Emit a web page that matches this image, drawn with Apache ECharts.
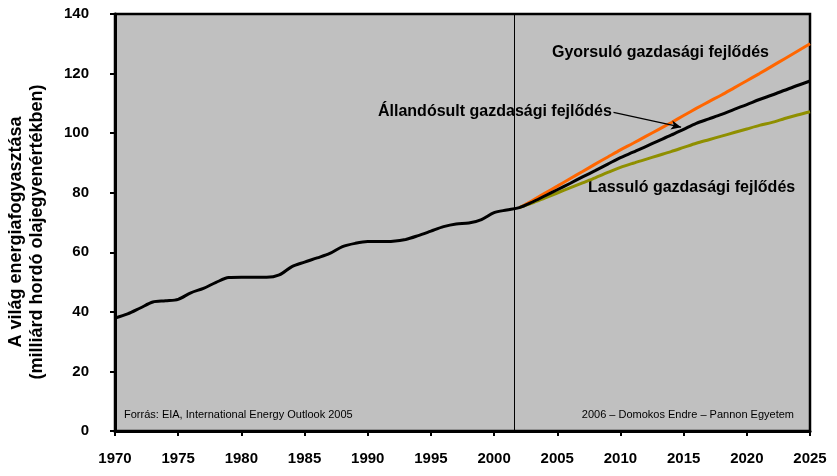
<!DOCTYPE html>
<html>
<head>
<meta charset="utf-8">
<script src="https://cdn.jsdelivr.net/npm/echarts@6/dist/echarts.min.js"></script>
<style>html,body{margin:0;padding:0;background:#fff;}#c{width:837px;height:476px;}</style>
</head>
<body>
<div id="c"></div>
<script>
// Historical (1970-2002)
var histYears = [1970,1971,1972,1973,1974,1975,1976,1977,1978,1979,1980,1981,1982,1983,1984,1985,1986,1987,1988,1989,1990,1991,1992,1993,1994,1995,1996,1997,1998,1999,2000,2001,2002];
var histValues = [37.9,39.3,41.3,43.3,43.7,44.2,46.4,47.9,49.9,51.5,51.6,51.6,51.6,52.4,55.2,56.7,58.1,59.6,61.9,63.0,63.6,63.6,63.7,64.3,65.6,67.1,68.6,69.5,69.8,71.0,73.3,74.2,75.0];
// Projections (2002-2025)
var projYears = [2002,2003,2004,2005,2006,2007,2008,2009,2010,2011,2012,2013,2014,2015,2016,2017,2018,2019,2020,2021,2022,2023,2024,2025];
var highValues = [75.0,77.3,79.8,82.2,84.7,87.1,89.6,92.0,94.4,96.6,98.9,101.2,103.5,105.9,108.3,110.6,112.8,115.2,117.6,120.0,122.5,125.0,127.5,130.0];
var refValues  = [75.0,76.8,78.9,81.0,83.1,85.3,87.4,89.6,91.8,93.6,95.5,97.4,99.3,101.3,103.3,104.8,106.3,108.0,109.6,111.3,112.8,114.4,116.0,117.5];
var lowValues  = [75.0,76.5,78.2,79.9,81.6,83.3,85.0,86.8,88.5,89.9,91.2,92.5,93.8,95.2,96.6,97.8,99.0,100.2,101.4,102.6,103.6,104.9,106.1,107.2];
var projectionStart = 2001.6;
var labels = {
  high: 'Gyorsuló gazdasági fejlődés',
  ref: 'Állandósult gazdasági fejlődés',
  low: 'Lassuló gazdasági fejlődés',
  yName1: 'A világ energiafogyasztása',
  yName2: '(milliárd hordó olajegyenértékben)',
  source: 'Forrás: EIA, International Energy Outlook 2005',
  credit: '2006 – Domokos Endre – Pannon Egyetem'
};

function zip(xs, ys){ return xs.map(function(x,i){ return [x, ys[i]]; }); }
var blackData = zip(histYears, histValues).concat(zip(projYears.slice(1), refValues.slice(1)));

var chart = echarts.init(document.getElementById('c'));
var FONT = '"Liberation Sans", Arial, sans-serif';
chart.setOption({
  animation: false,
  backgroundColor: '#ffffff',
  grid: { left: 115, right: 27, top: 14, bottom: 45, show: true, backgroundColor: '#C0C0C0', borderColor: '#000', borderWidth: 2.5 },
  xAxis: {
    type: 'value', min: 1970, max: 2025, interval: 5,
    axisLine: { show: true, lineStyle: { color: '#000', width: 3 } },
    axisTick: { show: true, length: 5, lineStyle: { color: '#000', width: 2 } },
    axisLabel: { color: '#000', fontFamily: FONT, fontWeight: 'bold', fontSize: 15, margin: 20, formatter: function(v){ return String(v); } },
    splitLine: { show: false }
  },
  yAxis: {
    type: 'value', min: 0, max: 140, interval: 20,
    axisLine: { show: true, lineStyle: { color: '#000', width: 3 } },
    axisTick: { show: true, length: 5, lineStyle: { color: '#000', width: 2 } },
    axisLabel: { color: '#000', fontFamily: FONT, fontWeight: 'bold', fontSize: 15, margin: 26 },
    splitLine: { show: false }
  },
  series: [
    { name: labels.high, type: 'line', data: zip(projYears, highValues), smooth: 0.3, showSymbol: false, lineStyle: { color: '#FF6600', width: 3 }, z: 2 },
    { name: labels.low, type: 'line', data: zip(projYears, lowValues), smooth: 0.3, showSymbol: false, lineStyle: { color: '#8F8F00', width: 3 }, z: 3 },
    { name: labels.ref, type: 'line', data: blackData, smooth: 0.3, showSymbol: false, lineStyle: { color: '#000', width: 3 }, z: 4,
      markLine: {
        silent: true, animation: false, label: { show: false },
        data: [
          [{ coord: [projectionStart, 0], symbol: 'none' }, { coord: [projectionStart, 140], symbol: 'none', lineStyle: { color: '#000', width: 1, type: 'solid' } }],
          [{ coord: [2009.45, 107.0], symbol: 'none' }, { coord: [2014.8, 102.0], symbol: 'arrow', symbolSize: [7, 10], lineStyle: { color: '#000', width: 1.2, type: 'solid' } }]
        ],
        lineStyle: { color: '#000', width: 1, type: 'solid' }
      }
    }
  ],
  graphic: [
    { type: 'text', x: 27, y: 232, rotation: Math.PI/2, style: { text: labels.yName1 + '\n' + labels.yName2, font: 'bold 18px ' + FONT, fill: '#000', align: 'center', verticalAlign: 'middle', lineHeight: 21 } },
    { type: 'text', x: 552, y: 53, style: { text: labels.high, font: 'bold 16px ' + FONT, fill: '#000', verticalAlign: 'middle' } },
    { type: 'text', x: 378, y: 112, style: { text: labels.ref, font: 'bold 16px ' + FONT, fill: '#000', verticalAlign: 'middle' } },
    { type: 'text', x: 588, y: 188, style: { text: labels.low, font: 'bold 16px ' + FONT, fill: '#000', verticalAlign: 'middle' } },
    { type: 'text', x: 124, y: 415, style: { text: labels.source, font: '11px ' + FONT, fill: '#000', verticalAlign: 'middle' } },
    { type: 'text', x: 794, y: 415, style: { text: labels.credit, font: '11px ' + FONT, fill: '#000', align: 'right', verticalAlign: 'middle' } }
  ]
});
</script>
</body>
</html>
